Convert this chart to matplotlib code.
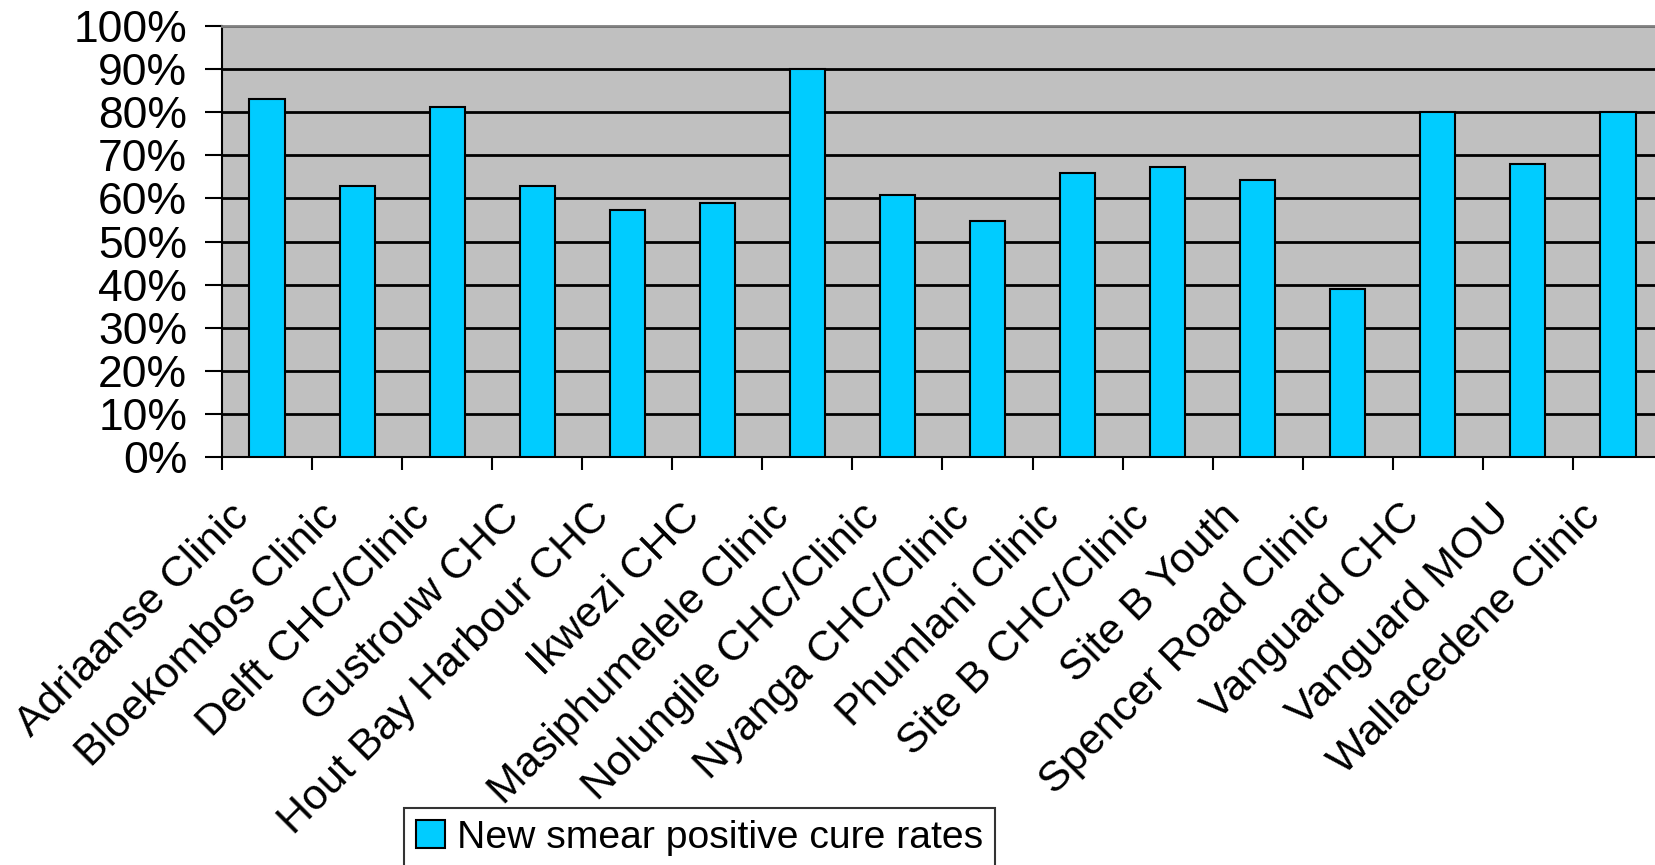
import matplotlib
matplotlib.use('Agg')
import matplotlib.pyplot as plt
from matplotlib.ticker import PercentFormatter, FixedLocator
from matplotlib.transforms import ScaledTranslation
import numpy as np

# clinic names and cure rates (%)
clinics = ['Adriaanse Clinic', 'Bloekombos Clinic', 'Delft CHC/Clinic', 'Gustrouw CHC',
           'Hout Bay Harbour CHC', 'Ikwezi CHC', 'Masiphumelele Clinic', 'Nolungile CHC/Clinic',
           'Nyanga CHC/Clinic', 'Phumlani Clinic', 'Site B CHC/Clinic', 'Site B Youth',
           'Spencer Road Clinic', 'Vanguard CHC', 'Vanguard MOU', 'Wallacedene Clinic']
cure_rates = [83.0, 62.9, 81.1, 62.9, 57.2, 59.0, 90.0, 60.9,
              54.7, 66.0, 67.3, 64.2, 39.0, 80.0, 67.9, 80.0]
series_name = 'New smear positive cure rates'

plt.rcParams['font.family'] = ['Liberation Sans', 'DejaVu Sans']

fig = plt.figure(figsize=(16.56, 8.65), dpi=100)
ax = fig.add_axes([222 / 1656, 1 - 457 / 865, (1663 - 222) / 1656, (457 - 26) / 865])

x = np.arange(len(clinics))
ax.bar(x, cure_rates, width=0.39, color='#00CCFF', edgecolor='black', linewidth=1.5,
       label=series_name, zorder=3)

ax.set_facecolor('#C0C0C0')
ax.set_xlim(-0.5, len(clinics) - 0.5)
ax.set_ylim(0, 100)
ax.set_yticks(np.arange(0, 101, 10))
ax.yaxis.set_major_formatter(PercentFormatter(decimals=0))
ax.grid(axis='y', color='black', linewidth=2, zorder=1)
ax.set_axisbelow(True)

# boundary ticks on x, labels at centers
ax.xaxis.set_major_locator(FixedLocator(np.arange(-0.5, len(clinics), 1.0)))
ax.xaxis.set_major_formatter(plt.NullFormatter())
ax.xaxis.set_minor_locator(FixedLocator(x))
ax.set_xticklabels(clinics, minor=True, rotation=45, ha='right', va='top',
                   rotation_mode='anchor', fontsize=31)
ax.tick_params(axis='x', which='minor', length=0, pad=14)
ax.tick_params(axis='x', which='major', length=9, width=1.5, direction='out')
ax.tick_params(axis='y', length=12, width=1.5, direction='out', labelsize=32, pad=13)

# nudge the rotated labels down-left like the original
shift = ScaledTranslation(-0.38, -0.2, fig.dpi_scale_trans)
for lbl in ax.xaxis.get_minorticklabels():
    lbl.set_transform(lbl.get_transform() + shift)

for side in ['left', 'bottom']:
    ax.spines[side].set_color('black')
    ax.spines[side].set_linewidth(1.5)
ax.spines['top'].set_color('#808080')
ax.spines['top'].set_linewidth(2)
ax.spines['right'].set_visible(False)

leg = fig.legend(loc='upper left', bbox_to_anchor=(404 / 1656, 1 - 808 / 865),
                 fontsize=28.2, frameon=True, fancybox=False, shadow=False,
                 handlelength=0.75, handleheight=0.75, handletextpad=0.3,
                 borderpad=0.3, borderaxespad=0)
leg.get_frame().set_edgecolor('black')
leg.get_frame().set_linewidth(1.5)

fig.savefig('out.png', dpi=100)
